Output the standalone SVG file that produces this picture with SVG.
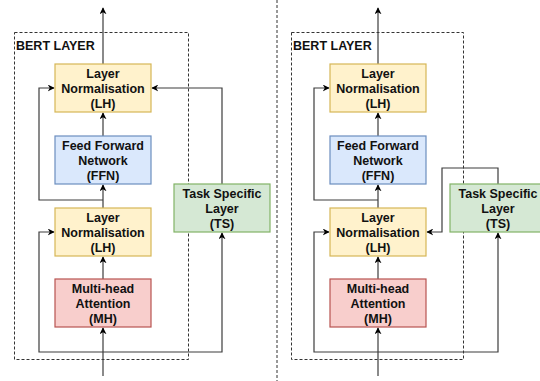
<svg xmlns="http://www.w3.org/2000/svg" width="540" height="381" viewBox="0 0 540 381">
<style>
.t{font-family:"Liberation Sans",Arial,sans-serif;font-weight:bold;font-size:12.5px;fill:#111;text-anchor:middle}
.lbl{font-family:"Liberation Sans",Arial,sans-serif;font-weight:bold;font-size:12.5px;fill:#111}
.c{fill:none;stroke:#3c3c3c;stroke-width:1.2}
.dash{fill:none;stroke:#333;stroke-width:1;stroke-dasharray:3 2}
.lh{fill:#fff2cc;stroke:#d6b656;stroke-width:1.2}
.ffn{fill:#dae8fc;stroke:#6c8ebf;stroke-width:1.2}
.mh{fill:#f8cecc;stroke:#b85450;stroke-width:1.2}
.ts{fill:#d5e8d4;stroke:#82b366;stroke-width:1.2}
</style>
<defs>
<marker id="a" viewBox="0 0 10 10" refX="9" refY="5" markerWidth="7" markerHeight="7" orient="auto" markerUnits="userSpaceOnUse">
<path d="M0,0 L10,5 L0,10 L3,5 Z" fill="#000"/>
</marker>
</defs>
<rect width="540" height="381" fill="#fff"/>
<g id="divider"><line x1="277" y1="0" x2="277" y2="381" class="dash"/></g>
<g id="bert-left"><rect x="14.5" y="32.5" width="174" height="327" class="dash"/><text x="16" y="49.5" class="lbl">BERT LAYER</text></g>
<g id="bert-right"><rect x="291.5" y="32.5" width="172" height="327" class="dash"/><text x="293" y="49.5" class="lbl">BERT LAYER</text></g>
<g id="connectors">
<path d="M103,64 V8" class="c" marker-end="url(#a)"/>
<path d="M103,136 V113" class="c" marker-end="url(#a)"/>
<path d="M103,208 V185" class="c" marker-end="url(#a)"/>
<path d="M103,279 V257" class="c" marker-end="url(#a)"/>
<path d="M103,376 V328" class="c" marker-end="url(#a)"/>
<path d="M103,200 H39 V88 H54" class="c" marker-end="url(#a)"/>
<path d="M103,352 H39 V232 H54" class="c" marker-end="url(#a)"/>
<path d="M103,352 H222 V233" class="c" marker-end="url(#a)"/>
<path d="M222,184 V88 H152" class="c" marker-end="url(#a)"/>
<path d="M378,64 V8" class="c" marker-end="url(#a)"/>
<path d="M378,136 V113" class="c" marker-end="url(#a)"/>
<path d="M378,208 V185" class="c" marker-end="url(#a)"/>
<path d="M378,279 V257" class="c" marker-end="url(#a)"/>
<path d="M378,376 V328" class="c" marker-end="url(#a)"/>
<path d="M378,200 H314 V88 H329" class="c" marker-end="url(#a)"/>
<path d="M378,352 H314 V232 H329" class="c" marker-end="url(#a)"/>
<path d="M378,352 H498 V233" class="c" marker-end="url(#a)"/>
<path d="M498,184 V168 H442 V232 H427" class="c" marker-end="url(#a)"/>
</g>
<g id="lh-top-left"><rect x="55" y="64" width="96" height="48" class="lh"/><text class="t" x="103" y="77.5">Layer</text><text class="t" x="103" y="92.5">Normalisation</text><text class="t" x="103" y="107.5">(LH)</text></g>
<g id="ffn-left"><rect x="55" y="136" width="96" height="48" class="ffn"/><text class="t" x="103" y="149.5">Feed Forward</text><text class="t" x="103" y="164.5">Network</text><text class="t" x="103" y="179.5">(FFN)</text></g>
<g id="lh-bottom-left"><rect x="55" y="208" width="96" height="48" class="lh"/><text class="t" x="103" y="221.5">Layer</text><text class="t" x="103" y="236.5">Normalisation</text><text class="t" x="103" y="251.5">(LH)</text></g>
<g id="mh-left"><rect x="55" y="279" width="96" height="48" class="mh"/><text class="t" x="103" y="292.5">Multi-head</text><text class="t" x="103" y="307.5">Attention</text><text class="t" x="103" y="322.5">(MH)</text></g>
<g id="ts-left"><rect x="174" y="184" width="96" height="48" class="ts"/><text class="t" x="222" y="197.5">Task Specific</text><text class="t" x="222" y="212.5">Layer</text><text class="t" x="222" y="227.5">(TS)</text></g>
<g id="lh-top-right"><rect x="330" y="64" width="96" height="48" class="lh"/><text class="t" x="378" y="77.5">Layer</text><text class="t" x="378" y="92.5">Normalisation</text><text class="t" x="378" y="107.5">(LH)</text></g>
<g id="ffn-right"><rect x="330" y="136" width="96" height="48" class="ffn"/><text class="t" x="378" y="149.5">Feed Forward</text><text class="t" x="378" y="164.5">Network</text><text class="t" x="378" y="179.5">(FFN)</text></g>
<g id="lh-bottom-right"><rect x="330" y="208" width="96" height="48" class="lh"/><text class="t" x="378" y="221.5">Layer</text><text class="t" x="378" y="236.5">Normalisation</text><text class="t" x="378" y="251.5">(LH)</text></g>
<g id="mh-right"><rect x="330" y="279" width="96" height="48" class="mh"/><text class="t" x="378" y="292.5">Multi-head</text><text class="t" x="378" y="307.5">Attention</text><text class="t" x="378" y="322.5">(MH)</text></g>
<g id="ts-right"><rect x="450" y="184" width="96" height="48" class="ts"/><text class="t" x="498" y="197.5">Task Specific</text><text class="t" x="498" y="212.5">Layer</text><text class="t" x="498" y="227.5">(TS)</text></g>
</svg>
